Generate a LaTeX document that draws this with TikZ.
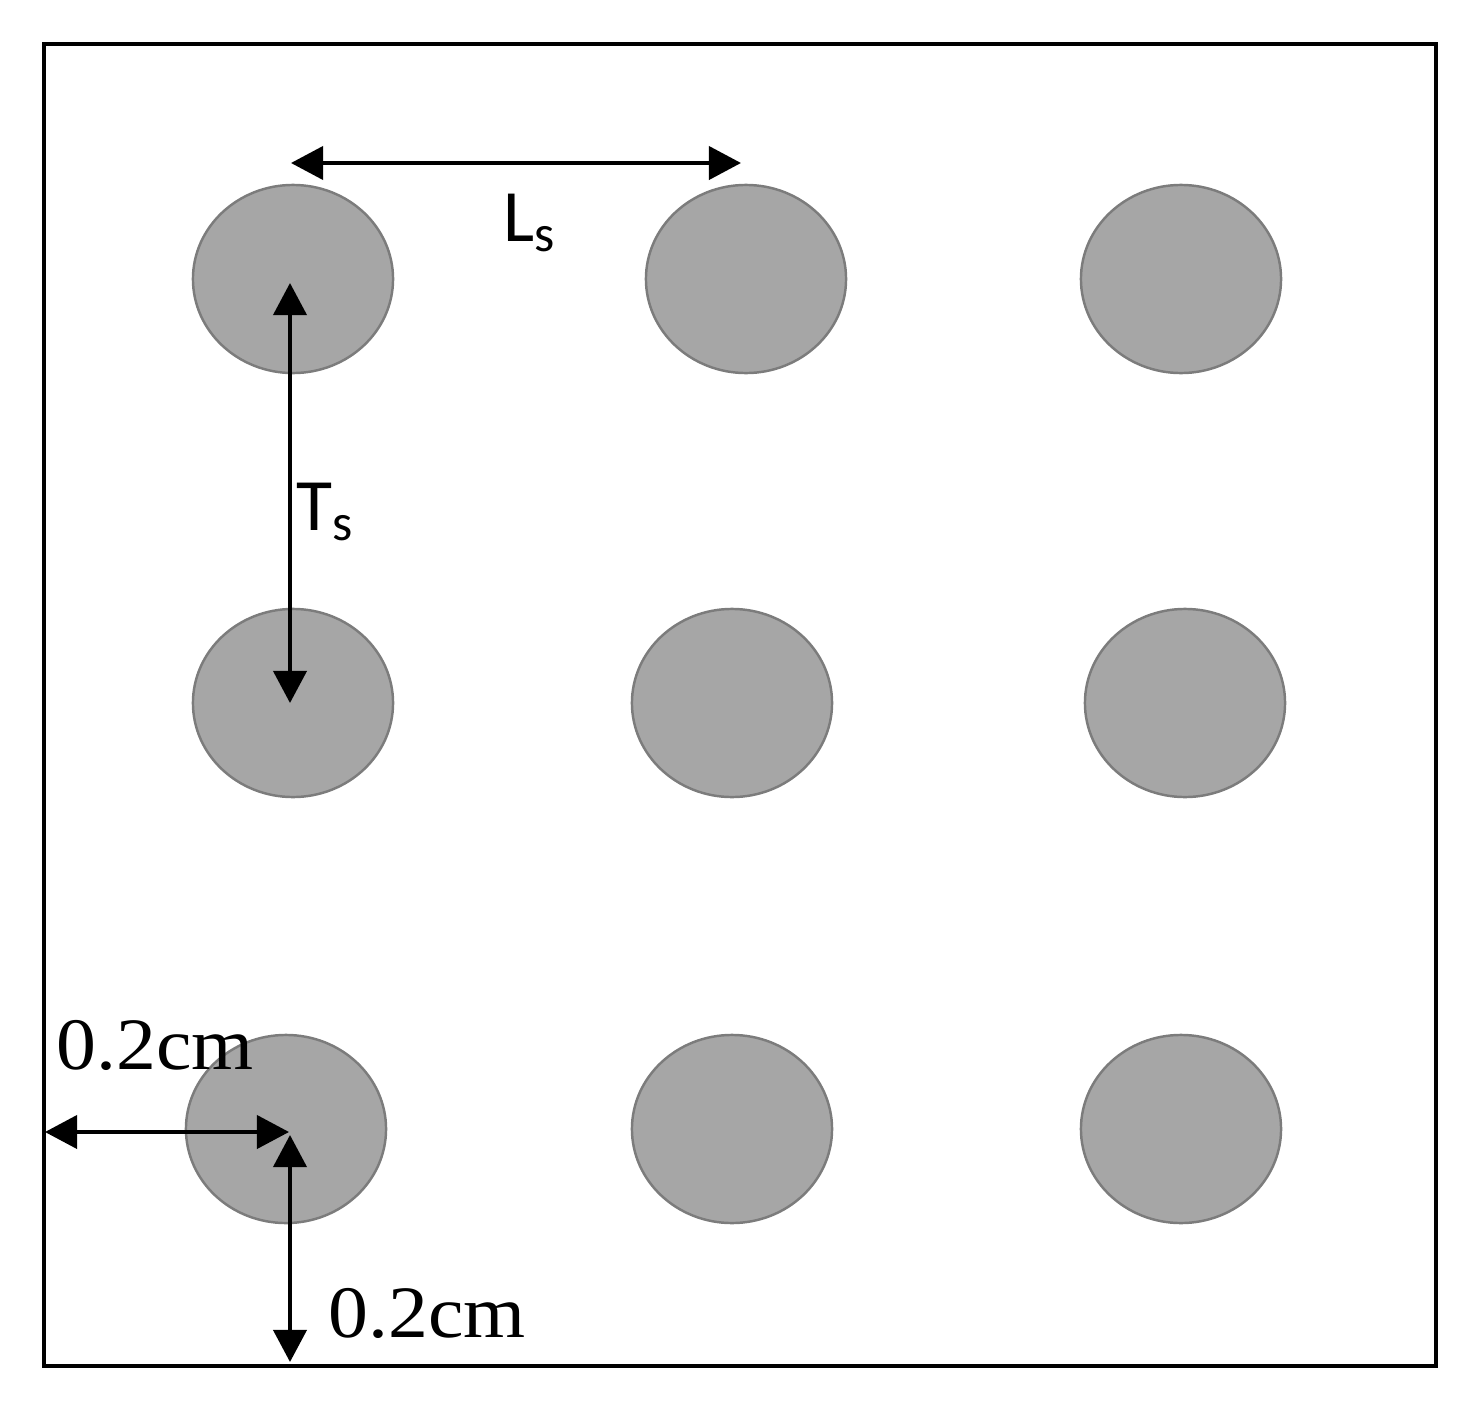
\documentclass[tikz,border=0pt]{standalone}
\usepackage{fontspec}
\setmainfont{Liberation Serif}
\newfontfamily\symfont{Carlito}
\usepackage{xcolor}
\usetikzlibrary{arrows.meta, shapes.geometric}

\definecolor{holefill}{HTML}{A6A6A6}
\definecolor{holeedge}{HTML}{7C7C7C}

\begin{document}
\begin{tikzpicture}[x=0.01cm, y=-0.01cm,
    hole/.style={ellipse, draw=holeedge, fill=holefill, line width=0.7pt,
        minimum width=2cm, minimum height=1.88cm, inner sep=0pt},
    dim/.style={line width=1.1pt,
        {Triangle[length=3.2mm,width=3.3mm]}-{Triangle[length=3.2mm,width=3.3mm]}},
    sym/.style={inner sep=0pt, font=\symfont\fontsize{21}{21}\selectfont},
    dimtext/.style={inner sep=0pt, font=\fontsize{21}{21}\selectfont, xscale=1.08}]
                        \useasboundingbox (0, 0) rectangle (1475, 1406);
                        \draw[line width=1.4pt] (44, 44) rectangle (1436, 1366);

                        \node[hole] (h11) at (293, 279) {};
                        \node[hole] (h12) at (746, 279) {};
                        \node[hole] (h13) at (1181, 279) {};
                        \node[hole] (h21) at (293, 703) {};
                        \node[hole] (h22) at (732, 703) {};
                        \node[hole] (h23) at (1185, 703) {};
                        \node[hole] (h31) at (286, 1129) {};
                        \node[hole] (h32) at (732, 1129) {};
                        \node[hole] (h33) at (1181, 1129) {};

                        \coordinate (ls1) at (291, 163);
                        \coordinate (ls2) at (741, 163);
                        \coordinate (ts1) at (290, 283);
                        \coordinate (ts2) at (290, 703);
                        \coordinate (cx) at (289, 1132);
                        \coordinate (cy) at (290, 1135);
                        \coordinate (wl) at (45, 1132);
                        \coordinate (wb) at (290, 1362);

                        \node[sym] (ls) at (530, 223) {L\textsubscript{s}};
                        \node[sym] (ts) at (325, 512) {T\textsubscript{s}};
                        \node[dimtext] (dx) at (155, 1045) {0.2cm};
                        \node[dimtext] (dy) at (427, 1313) {0.2cm};

                        \draw
                        (ls1) edge[dim] (ls2)
                        (ts1) edge[dim] (ts2)
                        (wl) edge[dim] (cx)
                        (cy) edge[dim] (wb);
                    \end{tikzpicture}
\end{document}
